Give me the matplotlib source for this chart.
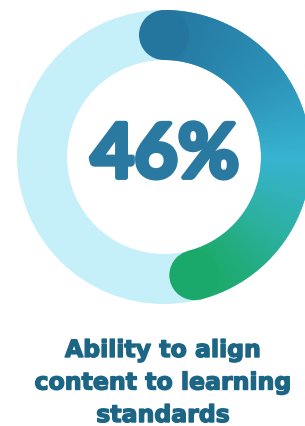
import numpy as np
import matplotlib.pyplot as plt
import matplotlib.patheffects as pe
from matplotlib.patches import Wedge, Circle
from matplotlib.colors import LinearSegmentedColormap

# data
share = 46  # percent
label_value = '46%'
caption_lines = ['Ability to align', 'content to learning', 'standards']

# gradient stops along the arc
grad_pos = [0.0, 0.3, 0.55, 0.75, 0.9, 1.0]
grad_col = ['#24769f', '#2b8fb5', '#37b3d0', '#2cb0a0', '#1fab74', '#1aa96a']
cmap = LinearSegmentedColormap.from_list('arc', list(zip(grad_pos, grad_col)))

track_col = '#c5eff9'
text_col = '#2a79a1'
cap_col = '#1c6585'

cx, cy = 164, 157
r_out, width = 147, 50
r_mid = r_out - width / 2

fig = plt.figure(figsize=(3.05, 4.26), dpi=100)
ax = fig.add_axes([0, 0, 1, 1])
ax.set_xlim(0, 305)
ax.set_ylim(426, 0)
ax.axis('off')

# background track
ax.add_patch(Wedge((cx, cy), r_out, 0, 360, width=width, color=track_col, lw=0))

# gradient arc, clockwise from 12 o'clock (y axis inverted -> angles go clockwise)
sweep = share / 100 * 360
n = 300
edges = np.linspace(0, sweep, n + 1)
for k in range(n):
    a0 = -90 + edges[k]
    a1 = -90 + edges[k + 1] + 0.4
    c = cmap((k + 0.5) / n)
    ax.add_patch(Wedge((cx, cy), r_out, a0, a1, width=width, color=c, lw=0))

# round caps
for t, ang in [(0.0, -90), (1.0, -90 + sweep)]:
    a = np.deg2rad(ang)
    ax.add_patch(Circle((cx + r_mid * np.cos(a), cy + r_mid * np.sin(a)),
                        width / 2, color=cmap(t), lw=0, zorder=3 if t == 0 else 1))

ax.text(cx + 1, cy - 1, label_value, ha='center', va='center', fontsize=54,
        fontweight='bold', family=['Lato', 'DejaVu Sans'], color=text_col,
        path_effects=[pe.withStroke(linewidth=3.5, foreground=text_col)])

for i, line in enumerate(caption_lines):
    ax.text(163, 350 + i * 32.5, line, ha='center', va='center', fontsize=17,
            fontweight='bold', family='DejaVu Sans', color=cap_col,
            path_effects=[pe.withStroke(linewidth=1.0, foreground=cap_col)])

plt.savefig('out.png', dpi=100)
